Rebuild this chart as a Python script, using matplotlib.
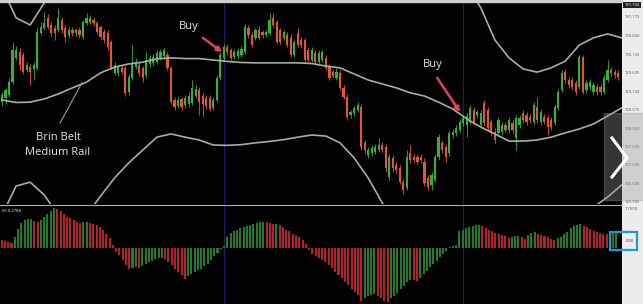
import matplotlib.pyplot as plt
import numpy as np
from matplotlib.patches import Rectangle
from matplotlib.lines import Line2D

opens=[128.79,128.91,128.99,129.35,130.03,130.19,130.11,129.69,129.77,129.72,
129.75,130.73,130.87,131.15,130.95,130.87,130.81,131.09,130.87,130.67,
130.81,130.73,130.81,130.61,131.01,131.03,131.09,131.01,130.89,130.75,
130.73,130.47,129.61,129.61,129.75,129.75,129.07,129.47,129.77,129.83,
129.75,129.55,129.86,129.89,129.91,130.03,130.08,130.11,129.75,128.85,
128.68,128.88,128.71,128.74,128.77,128.96,129.13,128.96,128.91,128.91,
128.63,128.85,129.47,130.03,130.33,130.25,130.05,130.08,130.11,130.19,
130.87,130.67,130.59,130.81,130.75,130.67,130.73,131.15,131.03,130.81,
130.59,130.67,130.59,130.11,130.73,130.53,130.53,130.25,129.97,130.17,
129.91,129.97,130.03,129.77,129.63,129.47,129.61,129.19,128.93,128.43,
128.49,128.57,128.65,127.65,127.31,127.37,127.39,127.45,127.59,127.53,
126.69,127.23,127.03,126.95,126.55,126.39,127.37,127.25,127.25,127.25,
127.11,126.67,126.47,126.61,127.25,127.65,127.53,127.37,127.87,127.93,
128.01,128.21,128.15,128.23,128.57,128.43,128.15,128.77,128.57,128.23,
127.95,127.93,127.95,128.15,128.01,128.21,127.79,128.15,128.49,128.43,
128.37,128.23,128.65,128.23,128.37,128.35,128.29,128.21,128.63,129.13,
129.63,129.41,129.41,129.33,129.21,130.05,129.13,129.21,129.07,129.21,
129.21,129.07,129.41,129.69,129.63,129.61]
closes=[128.99,129.13,129.35,130.25,130.25,129.83,129.63,129.83,129.63,129.83,
130.75,130.89,131.01,130.89,130.73,130.73,131.15,130.81,130.61,130.81,
130.73,130.81,130.67,131.03,131.15,131.15,131.01,130.75,130.61,130.53,
130.33,129.75,129.83,129.77,129.63,129.05,129.49,129.89,129.91,129.61,
129.47,129.97,130.03,130.05,130.17,130.19,130.25,129.75,128.79,128.65,
128.85,128.65,128.91,128.96,129.19,129.16,128.79,128.74,128.68,128.60,
128.85,129.47,130.11,130.33,130.19,130.03,130.19,130.22,130.28,130.89,
130.67,130.39,130.81,130.59,130.67,130.75,131.09,130.95,130.47,130.47,
130.75,130.39,130.11,130.47,130.39,130.39,129.97,129.97,130.25,129.91,
130.17,130.19,129.75,129.47,129.52,129.63,129.19,128.93,128.37,128.51,
128.63,128.71,127.53,127.45,127.45,127.51,127.53,127.59,127.45,126.95,
127.25,126.95,126.89,126.55,126.33,127.25,127.17,127.17,127.11,127.17,
126.53,126.41,126.75,127.25,127.81,127.45,127.25,127.93,127.95,128.07,
128.23,128.35,128.40,128.63,128.23,128.51,128.49,128.21,128.07,127.93,
127.73,128.29,128.15,128.01,128.29,128.01,128.35,128.35,128.29,128.23,
128.29,128.71,128.29,128.51,128.23,128.09,128.09,128.65,129.07,129.61,
129.41,129.27,129.21,129.07,130.05,129.07,129.33,129.35,129.27,129.07,
129.07,129.47,129.69,129.61,129.55,129.49]
highs=[129.07,129.19,129.47,130.47,130.36,130.31,130.19,129.91,129.86,129.91,
130.87,131.03,131.31,131.26,131.03,130.95,131.43,131.17,130.95,130.89,
130.89,130.87,130.89,131.09,131.29,131.23,131.17,131.06,130.95,130.84,
130.81,130.53,129.91,129.86,129.83,129.80,129.58,130.39,130.03,129.91,
129.80,130.19,130.11,130.14,130.25,130.28,130.31,130.19,129.80,128.93,
128.93,128.93,128.99,129.07,129.41,129.27,129.21,129.05,128.99,128.99,
128.93,129.55,130.19,130.42,130.42,130.31,130.28,130.31,130.36,130.98,
130.95,130.75,130.87,130.92,130.81,130.81,131.29,131.29,131.09,130.87,
130.81,130.75,130.70,130.53,130.87,130.61,130.59,130.33,130.33,130.25,
130.25,130.25,130.11,129.86,129.69,129.75,129.69,129.27,129.02,128.57,
128.68,128.79,128.74,127.73,127.53,127.59,127.62,127.79,127.67,127.62,
127.34,127.31,127.11,127.03,126.64,127.45,127.59,127.34,127.34,127.34,
127.23,126.75,126.83,127.34,127.90,127.73,127.62,128.01,128.04,128.15,
128.32,128.43,128.49,128.71,128.65,128.57,128.57,128.85,128.65,128.32,
128.07,128.37,128.23,128.23,128.37,128.29,128.43,128.43,128.57,128.51,
128.46,128.79,128.93,128.60,128.46,128.43,128.37,128.74,129.16,129.69,
129.72,129.49,129.49,129.41,130.11,130.11,129.41,129.44,129.35,129.30,
129.30,129.55,129.97,129.77,129.72,129.69]
lows=[128.68,128.74,128.93,129.30,129.97,129.69,129.58,129.63,129.27,129.41,
129.69,130.67,130.81,130.84,130.64,130.53,130.75,130.73,130.47,130.59,
130.64,130.64,130.59,130.56,130.95,130.98,130.92,130.70,130.53,130.45,
130.25,129.69,129.55,129.52,129.58,128.96,128.99,129.41,129.72,129.52,
129.35,129.47,129.77,129.80,129.86,129.97,130.00,129.69,128.74,128.57,
128.63,128.57,128.63,128.65,128.71,128.91,128.43,128.37,128.60,128.54,
128.57,128.79,129.41,129.97,130.11,129.97,130.00,130.03,130.05,130.14,
130.59,130.33,130.53,130.53,130.59,130.61,130.67,130.89,130.42,130.42,
130.53,130.33,130.05,130.05,130.33,130.31,129.91,129.91,129.91,129.86,
129.86,129.91,129.69,129.41,129.47,129.41,129.13,128.88,128.29,128.35,
128.40,128.51,127.45,127.37,127.23,127.28,127.34,127.39,127.39,126.83,
126.61,126.83,126.81,126.50,126.22,126.33,127.09,127.11,127.06,127.09,
126.44,126.33,126.33,126.55,127.17,127.37,127.11,127.28,127.79,127.84,
127.95,128.12,127.81,128.18,128.18,128.35,128.09,128.12,127.98,127.84,
127.65,127.84,127.87,127.95,127.93,127.93,127.45,128.07,128.21,128.15,
128.21,128.18,128.21,128.15,128.18,127.87,128.01,128.15,128.57,129.07,
129.33,129.19,129.13,128.99,129.16,129.02,129.05,129.13,128.99,128.99,
128.99,129.02,129.35,129.52,129.47,129.41]

band_idx=list(range(0,177,4))
mid_band=[128.85,128.78,128.79,128.88,129.02,129.19,129.35,129.61,129.77,129.86,
129.91,130.00,130.03,130.01,130.01,129.97,129.93,129.90,129.89,129.89,
129.89,129.89,129.87,129.80,129.75,129.58,129.41,129.30,129.19,129.05,
128.96,128.79,128.60,128.32,128.09,127.90,127.70,127.70,127.73,127.81,
127.93,128.04,128.18,128.40,128.63]
upper_band=[131.99,131.15,130.95,131.57,132.35,132.91,133.19,133.33,133.27,133.05,
132.77,132.49,132.35,132.27,132.21,132.27,132.32,132.27,132.21,132.15,
132.15,132.21,132.35,132.55,132.77,132.99,133.19,133.27,133.27,133.19,
133.05,132.83,132.49,132.07,131.43,130.53,130.03,129.72,129.63,129.75,
129.94,130.39,130.59,130.70,130.59]
lower_band=[125.63,126.44,126.55,126.19,125.63,125.35,125.63,126.16,126.67,127.09,
127.45,127.81,127.90,127.81,127.73,127.59,127.58,127.60,127.65,127.69,
127.74,127.81,127.87,127.84,127.65,127.23,126.67,125.97,125.35,124.93,
124.65,124.51,124.43,124.43,124.51,124.59,124.71,124.82,124.99,125.21,
125.43,125.66,125.85,126.13,126.47]

macd=[0.33,0.30,0.27,0.24,0.48,0.85,1.10,1.22,1.27,1.29,
1.20,1.15,1.22,1.36,1.50,1.63,1.76,1.70,1.62,1.50,
1.38,1.30,1.22,1.12,1.08,1.12,1.14,1.08,1.04,1.00,
0.90,0.78,0.63,0.42,0.12,-0.18,-0.32,-0.54,-0.76,-0.91,
-0.86,-0.84,-0.88,-0.78,-0.70,-0.63,-0.56,-0.50,-0.45,-0.42,
-0.48,-0.62,-0.76,-0.91,-1.06,-1.20,-1.36,-1.22,-1.12,-1.05,
-0.98,-0.90,-0.80,-0.68,-0.52,-0.36,-0.20,-0.06,0.10,0.48,
0.66,0.75,0.81,0.86,0.92,0.96,1.00,1.07,1.11,1.13,
1.15,1.12,1.09,1.05,1.07,1.00,0.92,0.81,0.75,0.63,
0.56,0.48,0.33,0.19,-0.10,-0.25,-0.37,-0.44,-0.52,-0.59,
-0.74,-0.89,-1.04,-1.18,-1.33,-1.48,-1.63,-1.78,-1.93,-2.07,
-2.30,-2.20,-2.12,-2.05,-2.00,-2.08,-2.20,-2.30,-2.35,-2.20,
-2.08,-1.95,-1.80,-1.65,-1.50,-1.38,-1.42,-1.45,-1.30,-1.15,
-1.00,-0.85,-0.70,-0.55,-0.40,-0.25,-0.12,0.05,0.10,0.15,
0.74,0.81,0.89,0.93,0.96,1.00,1.03,0.97,0.89,0.81,
0.74,0.67,0.60,0.55,0.52,0.45,0.50,0.52,0.54,0.48,
0.38,0.55,0.64,0.68,0.62,0.58,0.54,0.50,0.38,0.36,
0.42,0.50,0.62,0.72,0.86,0.95,1.00,1.04,0.98,0.92,
0.84,0.76,0.70,0.64,0.62,0.60,0.66,0.70,0.74]

price_ticks=[131.175,130.660,130.135,129.625,129.100,128.575,128.065,127.540,127.030,126.505,125.995]

W,H=643,304
fig=plt.figure(figsize=(6.43,3.04),dpi=100,facecolor='black')
plt.rcParams['font.family']=['Open Sans','DejaVu Sans']

# price panel
ax=fig.add_axes([0,100/H,622/W,202/H])
ax.set_facecolor('black')
o=np.array(opens)
c=np.array(closes)
x=np.arange(len(o))
col=np.where(c>=o,'#2fb52f','#e8552c')
ax.vlines(x,lows,highs,colors=col,lw=0.6)
ax.bar(x,np.maximum(np.abs(c-o),0.025),bottom=np.minimum(o,c),width=0.62,color=col,linewidth=0)
for band in (mid_band,upper_band,lower_band):
    ax.plot(band_idx,band,color='#9db3a6',lw=1.2)
ax.axvline(63,color='#1c1c6e',lw=0.9,zorder=0)
ax.axvline(131,color='#1c1c6e',lw=0.9,zorder=0)

ax.text(53.1,130.92,'Buy',color='#e6e6e6',fontsize=8,ha='center',va='center')
ax.annotate('',xy=(62.5,130.19),xytext=(57.1,130.59),
            arrowprops=dict(arrowstyle='-|>',color='#e3405c',lw=1.8,mutation_scale=7,shrinkA=0,shrinkB=0))
ax.text(122.4,129.83,'Buy',color='#e6e6e6',fontsize=8,ha='center',va='center')
ax.annotate('',xy=(130.1,128.51),xytext=(123.6,129.47),
            arrowprops=dict(arrowstyle='-|>',color='#e3405c',lw=1.8,mutation_scale=7,shrinkA=0,shrinkB=0))
ax.text(15.9,127.59,'Brin Belt\nMedium Rail',color='#e6e6e6',fontsize=8,ha='center',va='center',linespacing=1.4)
ax.plot([16.5,22.7],[128.21,129.33],color='#9a9a9a',lw=0.8)

ax.set_xlim(-0.57,176.1)
ax.set_ylim(125.938,131.594)
ax.set_xticks([])
ax.yaxis.tick_right()
ax.set_yticks(price_ticks)
ax.set_yticklabels([f'{v:.3f}' for v in price_ticks])
ax.tick_params(axis='y',labelsize=3,colors='#555555',length=0,pad=2)
for s in ax.spines.values():
    s.set_visible(False)

# macd panel
mx=fig.add_axes([0,0,622/W,98/H])
mx.set_facecolor('black')
m=np.array(macd)
mcol=['#b82025']+['#1f7d22' if m[i]>m[i-1] else '#b82025' for i in range(1,len(m))]
mx.bar(np.arange(len(m)),m,width=0.62,color=mcol,linewidth=0)
mx.axvline(68,color='#1c1c6e',lw=0.9,zorder=0)
mx.axvline(141,color='#1c1c6e',lw=0.9,zorder=0)
mx.set_xlim(-0.52,189.7)
mx.set_ylim(-2.45,1.84)
mx.set_xticks([])
mx.yaxis.tick_right()
mx.set_yticks([1.7509])
mx.set_yticklabels(['1.7509'])
mx.tick_params(axis='y',labelsize=3,colors='#555555',length=0,pad=2)
for s in mx.spines.values():
    s.set_visible(False)

# frame bits: axis strip, top line, separator
fig.add_artist(Rectangle((622/W,0),21/W,1,transform=fig.transFigure,color='#ececec',zorder=-1))
fig.add_artist(Rectangle((0,1-2/H),622/W,2/H,transform=fig.transFigure,color='#cfcfcf'))
fig.add_artist(Line2D([0,622/W],[1-205/H,1-205/H],transform=fig.transFigure,color='#b0b0b0',lw=0.8))
fig.text(632/W,1-5/H,'131.704',fontsize=3,color='white',ha='center',va='center',
         bbox=dict(fc='#222222',ec='none',pad=0.6))
fig.text(2/W,1-211/H,'60 0.2788',fontsize=3,color='white',ha='left',va='center')

fig.add_artist(Rectangle((604/W,104/H),39/W,87/H,transform=fig.transFigure,color='#9a9a9a',alpha=0.35,zorder=5))
fig.add_artist(Line2D([612/W,627/W,612/W],[1-138/H,1-158/H,1-177/H],transform=fig.transFigure,color='white',lw=2.2,zorder=6))
fig.add_artist(Rectangle((610/W,54/H),27/W,18/H,transform=fig.transFigure,fill=False,ec='#1b9ad8',lw=1.6,zorder=6))
fig.text(630/W,1-241/H,'0.00',fontsize=3,color='#333333',ha='center',va='center')

fig.savefig('out.png',dpi=100,facecolor='black')
